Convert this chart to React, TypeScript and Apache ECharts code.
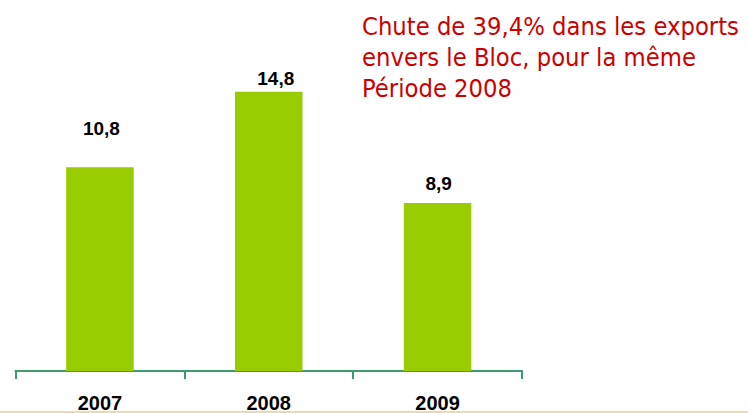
import React, { useEffect, useRef } from "react";
import * as echarts from "echarts";

const categories = ["2007", "2008", "2009"];
const values = [10.8, 14.8, 8.9];
const valueLabels = ["10,8", "14,8", "8,9"];
const noteLines = [
  "Chute de 39,4% dans les exports",
  "envers le Bloc, pour la même",
  "Période 2008",
];

// per-bar label placement tweaks (style, not data)
const labelDistance = [29, 4, 10.5];
const labelShiftX = [1.5, 7, 1];

export default function App() {
  const ref = useRef<HTMLDivElement>(null);
  useEffect(() => {
    if (!ref.current) return;
    const chart = echarts.init(ref.current, null, { renderer: "svg" });
    chart.setOption({
      animation: false,
      backgroundColor: "#ffffff",
      grid: { left: 15.5, right: 226, top: 69, bottom: 41 },
      xAxis: {
        type: "category",
        data: categories,
        axisLine: { lineStyle: { color: "#3a9b6c", width: 2 } },
        axisTick: { show: true, length: 8, lineStyle: { color: "#3a9b6c", width: 2 } },
        axisLabel: {
          margin: 22,
          color: "#000000",
          fontSize: 20,
          fontWeight: "bold",
          fontFamily: "Liberation Sans, Arial, sans-serif",
        },
      },
      yAxis: {
        type: "value",
        min: 0,
        max: 16,
        show: false,
        splitLine: { show: false },
      },
      series: [
        {
          type: "bar",
          barWidth: "40%",
          itemStyle: { color: "#99cc00" },
          data: values.map((v, i) => ({
            value: v,
            label: {
              show: true,
              position: "top",
              distance: labelDistance[i],
              offset: [labelShiftX[i], 0],
              formatter: valueLabels[i],
              color: "#000000",
              fontSize: 19,
              fontWeight: "bold",
              fontFamily: "Liberation Sans, Arial, sans-serif",
            },
          })),
        },
      ],
      graphic: [
        {
          type: "text",
          left: 362,
          top: 11,
          style: {
            text: noteLines.join("\n"),
            fill: "#cc0000",
            fontSize: 25.3,
            lineHeight: 31,
            fontFamily: "'DejaVu Sans Condensed', 'DejaVu Sans', sans-serif",
          },
        },
        {
          type: "rect",
          shape: { x: 0, y: 411, width: 748, height: 2 },
          style: { fill: "#ecdca4" },
          silent: true,
        },
      ],
    });
    return () => chart.dispose();
  }, []);
  return <div ref={ref} style={{ width: 748, height: 413, position: "absolute", left: 0, top: 0 }} />;
}
